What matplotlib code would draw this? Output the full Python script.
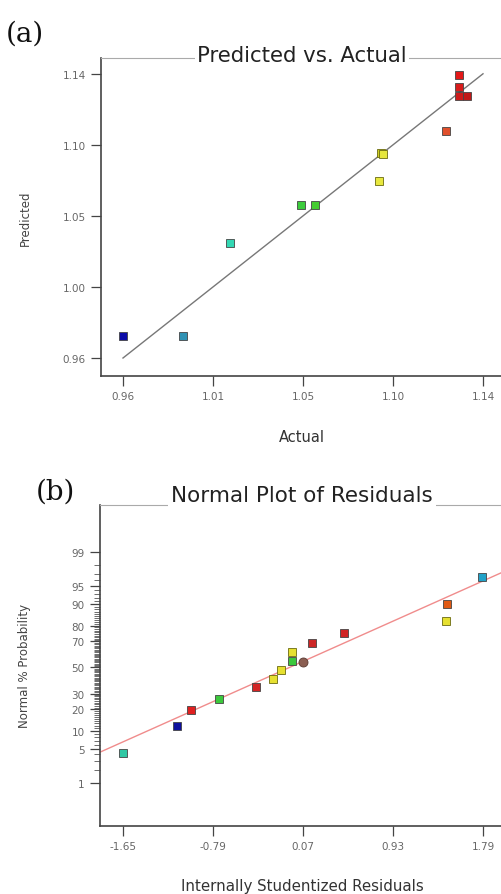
import matplotlib
matplotlib.use("Agg")
import matplotlib.pyplot as plt
from statistics import NormalDist

plt.rcParams['font.family'] = ['DejaVu Sans']

# ---------------- data: panel (a) ----------------
actual = [1.1281, 1.1281, 1.1281, 1.1318, 1.1215, 1.0890, 1.0900, 1.0880,
          1.0490, 1.0562, 1.0135, 0.9600, 0.9899]
predicted = [1.1390, 1.1318, 1.1262, 1.1262, 1.1040, 1.0898, 1.0895, 1.0718,
             1.0570, 1.0570, 1.0330, 0.9738, 0.9738]
colors_a = ['#e41818', '#d81c1c', '#cc1a1a', '#c01818', '#e0502c', '#cfcf22',
            '#e6e63c', '#e8e83e', '#3ccc3c', '#44cc30', '#33d8b4', '#0c0ca8', '#3092b4']
fit_a = [0.96, 1.14]
ticks_a = [0.96, 1.005, 1.05, 1.095, 1.14]
xticklabels_a = ['0.96', '1.01', '1.05', '1.10', '1.14']
yticklabels_a = ['0.96', '1.00', '1.05', '1.10', '1.14']

# ---------------- data: panel (b) ----------------
residuals = [-1.653, -1.137, -1.003, -0.736, -0.376, -0.220, -0.137, -0.035,
             -0.035, 0.159, 0.462, 1.437, 1.443, 1.784]
probability = [4.2, 12.0, 19.5, 26.6, 34.4, 40.7, 48.1, 55.3, 62.3, 69.0,
               75.9, 82.6, 89.8, 96.5]
colors_b = ['#30c8a4', '#10109c', '#e02020', '#3cc83c', '#d42424', '#e6e030',
            '#e6e030', '#3cc83c', '#e6e030', '#cc2626', '#d02424', '#e6e030',
            '#e05a14', '#22a2c8']
flag_resid = [0.067]
flag_prob = [54.0]
fit_b_resid = [-1.87, 1.97]
fit_b_z = [-1.704, 1.911]
xticks_b = [-1.65, -0.79, 0.07, 0.93, 1.79]
xticklabels_b = ['-1.65', '-0.79', '0.07', '0.93', '1.79']
yticks_b = [1, 5, 10, 20, 30, 50, 70, 80, 90, 95, 99]

nd = NormalDist()
def z(p):
    return nd.inv_cdf(p / 100.0)

W, H = 502, 895
fig = plt.figure(figsize=(W / 100, H / 100), dpi=100)

def ax_rect(l, t, r, b):
    return [l / W, 1 - b / H, (r - l) / W, (b - t) / H]

tick_color = '#666666'
spine_color = '#444444'
yellows = ('#cfcf22', '#e6e63c', '#e8e83e', '#e6e030')

def style(ax):
    ax.spines['right'].set_visible(False)
    ax.spines['top'].set_color('#aaaaaa')
    ax.spines['top'].set_linewidth(0.8)
    for s in ('left', 'bottom'):
        ax.spines[s].set_color(spine_color)
        ax.spines[s].set_linewidth(1.2)
    ax.tick_params(axis='both', which='major', direction='out', length=7,
                   width=0.9, color=spine_color, labelsize=7.5,
                   labelcolor=tick_color, pad=4)

# ---------------- panel (a) ----------------
axa = fig.add_axes(ax_rect(101, 59, 502, 377))
axa.plot(fit_a, fit_a, color='#777777', lw=1.0, zorder=2)
for x, y, c in zip(actual, predicted, colors_a):
    axa.plot(x, y, marker='s', ms=6.4, color=c,
             mec='#6a6a10' if c in yellows else '#444444',
             mew=0.6, zorder=3, ls='none')
axa.set_xlim(0.949, 1.1495)
axa.set_ylim(0.9486, 1.1500)
axa.set_xticks(ticks_a)
axa.set_xticklabels(xticklabels_a)
axa.set_yticks(ticks_a)
axa.set_yticklabels(yticklabels_a)
style(axa)

# ---------------- panel (b) ----------------
axb = fig.add_axes(ax_rect(100, 506, 502, 827))
axb.plot(fit_b_resid, fit_b_z, color='#f08c8c', lw=1.0, zorder=2)
for x, p, c in zip(residuals, probability, colors_b):
    axb.plot(x, z(p), marker='s', ms=6.4, color=c,
             mec='#6a6a10' if c in yellows else '#444444', mew=0.6,
             zorder=3, ls='none')
axb.plot(flag_resid, [z(p) for p in flag_prob], marker='o', ms=6.5,
         color='#8a5e52', mec='#5a3a32', mew=0.6, ls='none', zorder=4)
axb.set_xlim(-1.87, 1.972)
axb.set_ylim(-3.19, 3.27)
axb.set_xticks(xticks_b)
axb.set_xticklabels(xticklabels_b)
axb.set_yticks([z(p) for p in yticks_b])
axb.set_yticklabels([str(p) for p in yticks_b])
minor = [z(p) for p in range(2, 99) if p not in yticks_b]
axb.set_yticks(minor, minor=True)
style(axb)
axb.tick_params(axis='y', which='minor', direction='out', length=4,
                width=0.6, color='#555555')

# ---------------- texts ----------------
def ftext(x, y, s, **kw):
    fig.text(x / W, 1 - y / H, s, **kw)

ftext(6, 42, '(a)', family=['DejaVu Serif'], fontsize=20,
      ha='left', va='baseline', color='#111111')
ftext(36, 500, '(b)', family=['DejaVu Serif'], fontsize=20,
      ha='left', va='baseline', color='#111111')

ftext(302, 62, 'Predicted vs. Actual', fontsize=15.3, ha='center', va='baseline',
      color='#222222', bbox=dict(facecolor='white', edgecolor='none', pad=1.5))
ftext(302, 502, 'Normal Plot of Residuals', fontsize=15.5, ha='center',
      va='baseline', color='#222222',
      bbox=dict(facecolor='white', edgecolor='none', pad=2))

ftext(25, 218, 'Predicted', fontsize=8.5, rotation=90, ha='center', va='center',
      color='#444444')
ftext(302, 438, 'Actual', fontsize=10.5, ha='center', va='center', color='#333333')
ftext(25, 666, 'Normal % Probability', fontsize=8.5, rotation=90, ha='center',
      va='center', color='#444444')
ftext(302, 887, 'Internally Studentized Residuals', fontsize=10.8, ha='center',
      va='center', color='#333333')

fig.savefig('out.png', dpi=100)
